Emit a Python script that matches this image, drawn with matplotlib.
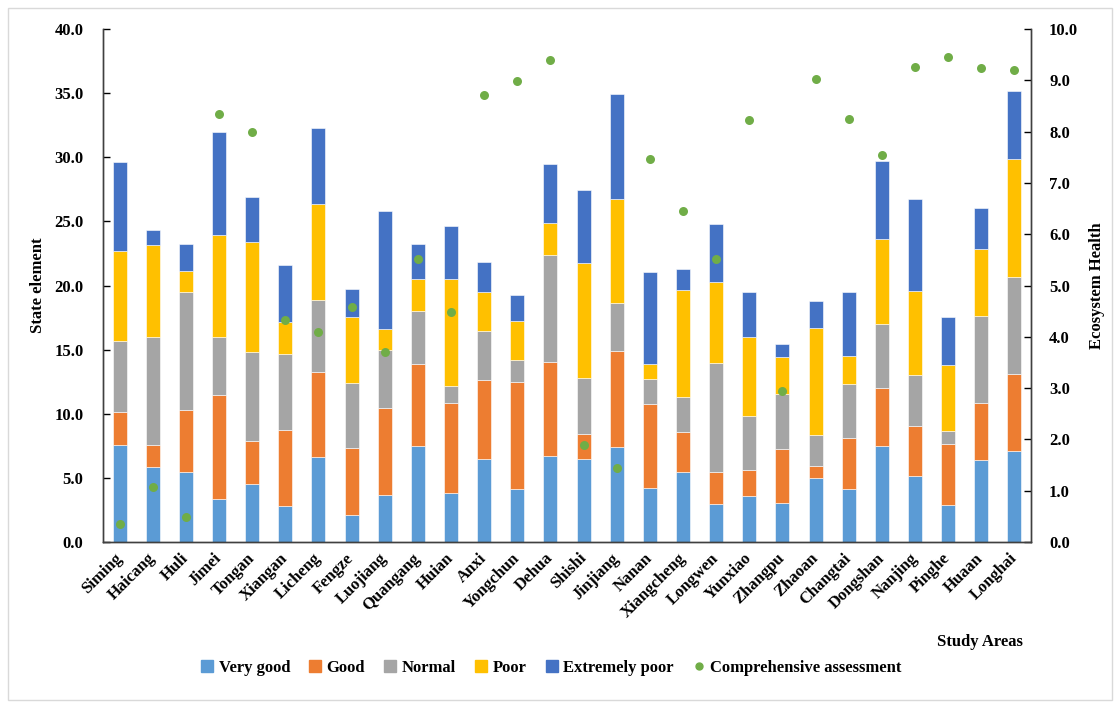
import matplotlib
matplotlib.use("Agg")
import matplotlib.pyplot as plt
import numpy as np
from matplotlib.patches import Rectangle
from matplotlib.lines import Line2D

areas = ["Siming", "Haicang", "Huli", "Jimei", "Tongan", "Xiangan", "Licheng", "Fengze",
         "Luojiang", "Quangang", "Huian", "Anxi", "Yongchun", "Dehua", "Shishi", "Jinjiang",
         "Nanan", "Xiangcheng", "Longwen", "Yunxiao", "Zhangpu", "Zhaoan", "Changtai",
         "Dongshan", "Nanjing", "Pinghe", "Huaan", "Longhai"]

very_good = [7.55, 5.84, 5.47, 3.34, 4.55, 2.84, 6.61, 2.08, 3.66, 7.45, 3.82, 6.50, 4.13, 6.68,
             6.45, 7.39, 4.24, 5.47, 2.95, 3.55, 3.03, 4.97, 4.16, 7.45, 5.13, 2.87, 6.39, 7.08]
good = [2.58, 1.69, 4.79, 8.16, 3.34, 5.87, 6.63, 5.24, 6.81, 6.39, 7.02, 6.13, 8.32, 7.32,
        1.97, 7.53, 6.50, 3.08, 2.50, 2.03, 4.21, 0.95, 3.97, 4.58, 3.90, 4.76, 4.43, 6.05]
normal = [5.58, 8.47, 9.21, 4.50, 6.90, 5.97, 5.60, 5.10, 4.50, 4.16, 1.29, 3.79, 1.76, 8.34,
          4.34, 3.69, 1.94, 2.74, 8.47, 4.24, 4.29, 2.40, 4.21, 5.00, 3.97, 1.05, 6.79, 7.55]
poor = [6.97, 7.16, 1.69, 7.97, 8.60, 2.48, 7.48, 5.16, 1.64, 2.47, 8.37, 3.08, 3.03, 2.50,
        9.03, 8.13, 1.19, 8.37, 6.37, 6.18, 2.92, 8.36, 2.19, 6.60, 6.58, 5.11, 5.23, 9.16]
extremely_poor = [6.92, 1.13, 2.10, 7.98, 3.53, 4.44, 5.97, 2.16, 9.23, 2.74, 4.13, 2.32, 2.05,
                  4.61, 5.66, 8.18, 7.21, 1.63, 4.50, 3.53, 1.00, 2.11, 4.94, 6.05, 7.16, 3.79,
                  3.24, 5.34]
comprehensive = [0.35, 1.07, 0.48, 8.35, 7.99, 4.33, 4.09, 4.58, 3.70, 5.52, 4.49, 8.72, 8.99,
                 9.40, 1.89, 1.45, 7.46, 6.46, 5.51, 8.22, 2.95, 9.03, 8.24, 7.55, 9.26, 9.46,
                 9.24, 9.20]

series_names = ["Very good", "Good", "Normal", "Poor", "Extremely poor"]
colors = ["#5B9BD5", "#ED7D31", "#A5A5A5", "#FFC000", "#4472C4"]
dot_color = "#70AD47"

plt.rcParams['font.family'] = ['Liberation Serif', 'DejaVu Serif']
plt.rcParams['font.weight'] = 'bold'

fig = plt.figure(figsize=(11.2, 7.08), dpi=100)
ax = fig.add_axes([0.092, 0.2345, 0.8285, 0.7245])
ax2 = ax.twinx()

x = np.arange(len(areas))
bottom = np.zeros(len(areas))
handles = []
for name, vals, c in zip(series_names, [very_good, good, normal, poor, extremely_poor], colors):
    v = np.array(vals)
    ax.bar(x, v, width=0.42, bottom=bottom, color=c, edgecolor='white', linewidth=0.4,
           label=name, zorder=2)
    bottom += v
    handles.append(Line2D([], [], marker='s', linestyle='none', markersize=8,
                          markerfacecolor=c, markeredgecolor=c, label=name))

ax2.scatter(x, comprehensive, s=42, color=dot_color, zorder=5, linewidths=0)
handles.append(Line2D([], [], marker='o', linestyle='none', markersize=5,
                      markerfacecolor=dot_color, markeredgecolor=dot_color,
                      label="Comprehensive assessment"))

ax.set_xlim(-0.5, len(areas) - 0.5)
ax.set_ylim(0, 40)
ax2.set_ylim(0, 10)
ax.set_yticks(np.arange(0, 40.1, 5))
ax.set_yticklabels([f"{v:.1f}" for v in np.arange(0, 40.1, 5)])
ax2.set_yticks(np.arange(0, 10.1, 1))
ax2.set_yticklabels([f"{v:.1f}" for v in np.arange(0, 10.1, 1)])

ax.set_xticks(x)
ax.set_xticklabels(areas, rotation=45, ha='right', va='center', rotation_mode='anchor',
                   fontsize=12, fontweight='bold')
ax.tick_params(axis='x', length=0, pad=10)
ax.tick_params(axis='y', direction='in', length=5, pad=14, labelsize=12, width=1)
ax2.tick_params(axis='y', direction='in', length=5, pad=13, labelsize=12, width=1)

for a in (ax, ax2):
    a.spines['top'].set_visible(False)
    for s in ('left', 'right', 'bottom'):
        a.spines[s].set_color('#404040')
        a.spines[s].set_linewidth(1.0)

ax.set_ylabel("State element", fontsize=12, fontweight='bold', labelpad=6)
ax2.set_ylabel("Ecosystem Health", fontsize=12, fontweight='bold', labelpad=8)

fig.text(1023 / 1120, 1 - 642 / 708, "Study Areas", ha='right', va='center',
         fontsize=12, fontweight='bold')

fig.legend(handles=handles, loc='center', bbox_to_anchor=(0.492, 1 - 668 / 708), ncol=6,
           frameon=False, handlelength=0.8, handletextpad=0.3,
           columnspacing=1.1, prop={'weight': 'bold', 'size': 12})

fig.patches.append(Rectangle((0.007, 0.011), 0.986, 0.978, transform=fig.transFigure,
                             fill=False, edgecolor='#d9d9d9', linewidth=1))

fig.savefig("out.png", dpi=100)
